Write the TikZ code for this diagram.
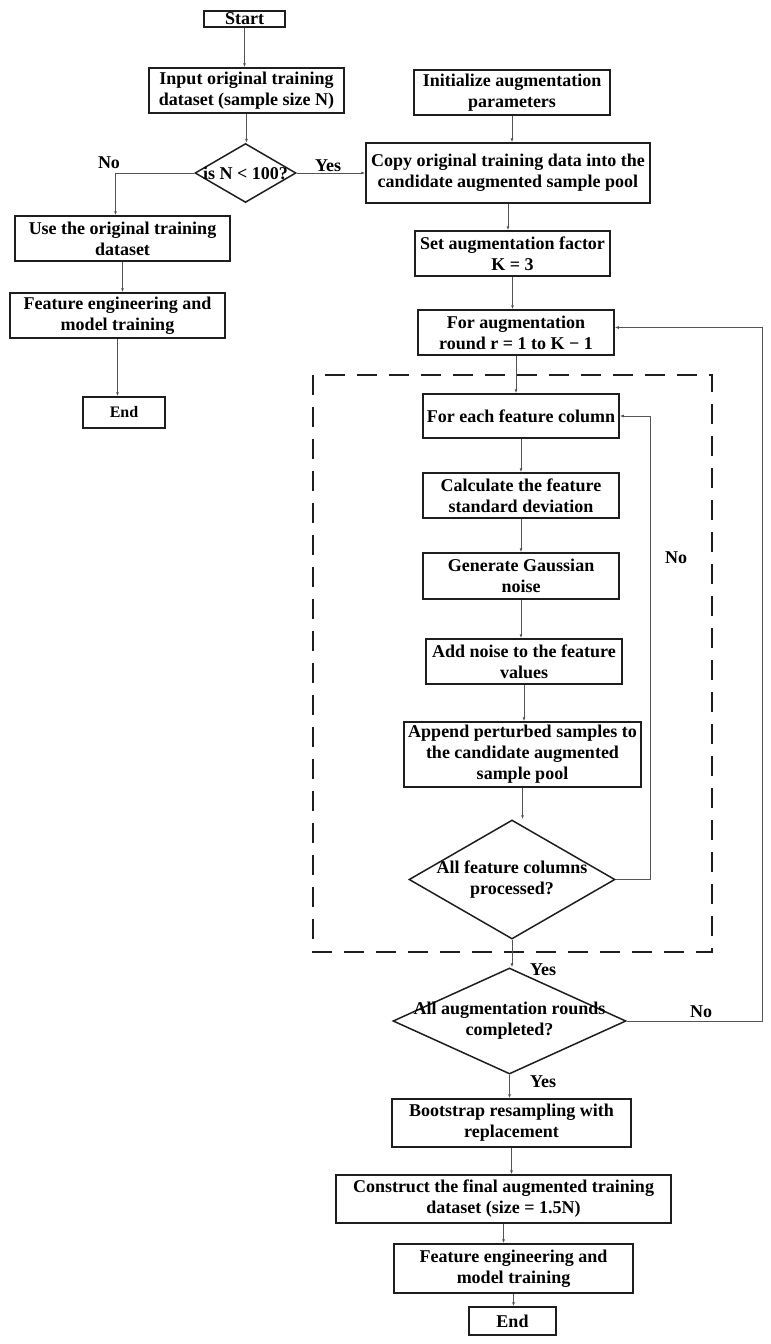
\documentclass[tikz,border=0pt]{standalone}
\usepackage{fontspec}
\setmainfont{Liberation Serif}
\usepackage{tikz}
\usetikzlibrary{shapes.geometric, arrows.meta, positioning}
\definecolor{boxink}{RGB}{30, 30, 30}
\definecolor{lineink}{RGB}{85, 85, 85}

\tikzset{
  stepbox/.style={draw=boxink, line width=1.5pt, align=center, inner sep=1pt,
    font=\bfseries\fontsize{18}{21}\selectfont},
  decide/.style={draw=boxink, diamond, line width=1.5pt, inner sep=0pt},
  decitext/.style={align=center, inner sep=0pt, font=\bfseries\fontsize{18}{21}\selectfont},
  tag/.style={inner sep=0pt, font=\bfseries\fontsize{18}{21}\selectfont},
  flow/.style={-{Latex[length=4pt, width=3pt]}, line width=0.8pt, lineink},
  dashbox/.style={line width=1.5pt, boxink, dash pattern=on 20pt off 12pt}
}

\begin{document}
\begin{tikzpicture}[x=1pt, y=-1pt]
  \useasboundingbox (0,0) rectangle (771,1344);
  % Left branch
  \node[stepbox, minimum width=81, minimum height=16] (start) at (244.5,19) {Start};
  \node[stepbox, minimum width=195, minimum height=45] (input) at (246.5,90.5)
    {Input original training\\dataset (sample size N)};
  \node[decide, minimum width=101, minimum height=59] (d1) at (245.5,173) {};
  \node[decitext] (d1txt) at (d1) {is N < 100?};
  \node[stepbox, minimum width=215, minimum height=45] (use) at (122.5,238.5)
    {Use the original training\\dataset};
  \node[stepbox, minimum width=215, minimum height=45] (featL) at (117.5,315.5)
    {Feature engineering and\\model training};
  \node[stepbox, minimum width=82, minimum height=31, font=\bfseries\fontsize{16}{18}\selectfont]
    (endL) at (124,412.5) {End};
  % Right column
  \node[stepbox, minimum width=196, minimum height=45] (init) at (512,92.5)
    {Initialize augmentation\\parameters};
  \node[stepbox, minimum width=284, minimum height=60] (copy) at (508,173)
    {Copy original training data into the\\candidate augmented sample pool};
  \node[stepbox, minimum width=195, minimum height=45] (factor) at (512.5,253.5)
    {Set augmentation factor\\K = 3};
  \node[stepbox, minimum width=196, minimum height=45] (round) at (516,332.5)
    {For augmentation\\round r = 1 to K − 1};
  % Inner loop
  \draw[dashbox] (313,375) rectangle (712,952);
  \node[stepbox, minimum width=196, minimum height=44] (each) at (521,416)
    {For each feature column};
  \node[stepbox, minimum width=196, minimum height=45] (calc) at (521,495.5)
    {Calculate the feature\\standard deviation};
  \node[stepbox, minimum width=196, minimum height=46] (noise) at (521,576)
    {Generate Gaussian\\noise};
  \node[stepbox, minimum width=196, minimum height=45] (add) at (524,661.5)
    {Add noise to the feature\\values};
  \node[stepbox, minimum width=237, minimum height=65] (append) at (522.5,754.5)
    {Append perturbed samples to\\the candidate augmented\\sample pool};
  \node[decide, minimum width=206, minimum height=119] (d2) at (512,879.5) {};
  \node[decitext] (d2txt) at (d2) {All feature columns\\processed?};
  % Final steps
  \node[decide, minimum width=233, minimum height=106] (d3) at (509.5,1021) {};
  \node[decitext] (d3txt) at (d3) {All augmentation rounds\\completed?};
  \node[stepbox, minimum width=239, minimum height=48] (boot) at (511.5,1123)
    {Bootstrap resampling with\\replacement};
  \node[stepbox, minimum width=335, minimum height=48] (final) at (503.5,1199)
    {Construct the final augmented training\\dataset (size = 1.5N)};
  \node[stepbox, minimum width=239, minimum height=49] (featR) at (513.5,1268.5)
    {Feature engineering and\\model training};
  \node[stepbox, minimum width=87, minimum height=28] (endR) at (512.5,1321) {End};
  % Connectors
  \foreach \a/\b in {start/input, input/d1, use/featL, featL/endL,
                     init/copy, copy/factor, factor/round, round/each,
                     each/calc, calc/noise, noise/add, add/append,
                     append/d2, d2/d3, d3/boot, boot/final, final/featR, featR/endR}
    \draw[flow] (\a.south) -- (\a.south |- \b.north);
  \draw[flow] (d1.west) -| ([xshift=-7pt]use.north);
  \draw[flow] (d1.east) -- (copy.west);
  \draw[flow] (d2.east) -- ++(35,0) |- (each.east);
  \draw[flow] (d3.east) -- ++(136,0) |- ([yshift=5pt]round.east);
  % Branch labels
  \node[tag] (noA) at (109,163) {No};
  \node[tag] (yesA) at (328,166) {Yes};
  \node[tag] (noB) at (676,558) {No};
  \node[tag] (yesB) at (543,970) {Yes};
  \node[tag] (noC) at (701,1012) {No};
  \node[tag] (yesC) at (543,1082) {Yes};
\end{tikzpicture}
\end{document}
